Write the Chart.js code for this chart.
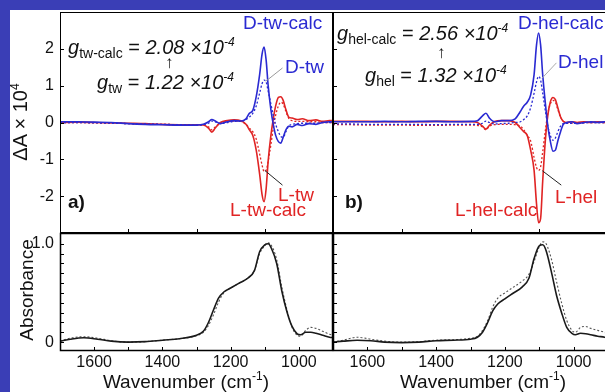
<!DOCTYPE html>
<html>
<head>
<meta charset="utf-8">
<script src="https://cdn.jsdelivr.net/npm/chart.js@4.4.1/dist/chart.umd.min.js"></script>
<style>
html, body { margin: 0; padding: 0; width: 605px; height: 392px; overflow: hidden; background: #3a3eb6; }
#sheet { position: absolute; left: 10px; top: 10px; right: 0; bottom: 0; background: #fff; }
canvas { position: absolute; }
.t { position: absolute; font-family: "Liberation Sans", Arial, sans-serif; font-size: 19px; line-height: 20px; white-space: nowrap; color: #111; }
.t sub { font-size: 14px; font-style: normal; vertical-align: -4px; line-height: 0; }
.t sup { font-size: 12px; vertical-align: 8px; line-height: 0; }
.g { font-size: 20px; }
.blue { color: #2a2ad2; }
.red { color: #e02424; }
.b { font-weight: bold; }
.arr { font-size: 17px; font-weight: 100; }
.rot { transform: translate(-50%, -50%) rotate(-90deg); }
.ctr { transform: translate(-50%, -50%); }
</style>
</head>
<body>
<div id="sheet"></div>
<canvas id="vcdTw" width="336" height="236" style="left:0;top:0"></canvas>
<canvas id="vcdHel" width="300" height="236" style="left:323px;top:0"></canvas>
<canvas id="absTw" width="336" height="169" style="left:0;top:223px"></canvas>
<canvas id="absHel" width="300" height="169" style="left:323px;top:223px"></canvas>

<div class="t g" style="left:68px;top:37px"><i>g</i><sub>tw-calc</sub> = <i>2.08 ×10<sup>-4</sup></i></div>
<div class="t arr" style="left:165px;top:53px">↑</div>
<div class="t g" style="left:97px;top:72px"><i>g</i><sub>tw</sub> = <i>1.22 ×10<sup>-4</sup></i></div>
<div class="t blue" style="left:243px;top:13px">D-tw-calc</div>
<div class="t blue" style="left:285px;top:57px">D-tw</div>
<div class="t red" style="left:278px;top:185px">L-tw</div>
<div class="t red" style="left:230px;top:200px">L-tw-calc</div>
<div class="t b" style="left:68px;top:192px">a)</div>

<div class="t g" style="left:337px;top:23px"><i>g</i><sub>hel-calc</sub> = <i>2.56 ×10<sup>-4</sup></i></div>
<div class="t arr" style="left:437px;top:43px">↑</div>
<div class="t g" style="left:365px;top:65px"><i>g</i><sub>hel</sub> = <i>1.32 ×10<sup>-4</sup></i></div>
<div class="t blue" style="left:518px;top:13px">D-hel-calc</div>
<div class="t blue" style="left:558px;top:52px">D-hel</div>
<div class="t red" style="left:555px;top:187px">L-hel</div>
<div class="t red" style="left:455px;top:200px">L-hel-calc</div>
<div class="t b" style="left:345px;top:192px">b)</div>

<div class="t rot" style="left:20px;top:122px;font-size:20px">ΔA × 10<sup>4</sup></div>
<div class="t rot" style="left:27px;top:290px">Absorbance</div>
<div class="t ctr" style="left:186px;top:382px">Wavenumber (cm<sup>-1</sup>)</div>
<div class="t ctr" style="left:483px;top:382px">Wavenumber (cm<sup>-1</sup>)</div>

<script>
// VCD spectra (ΔA x 10^4), x = wavenumber
const wnTop = [1700,1650,1600,1550,1500,1450,1400,1350,1300,1280,1265,1255,1245,1230,1210,1190,1170,1155,1145,1135,1125,1115,1108,1102,1096,1090,1082,1075,1068,1060,1053,1046,1038,1030,1020,1005,990,970,950,930,910,900];
const twCalcD = [0.02,0.02,0.01,0.0,-0.03,-0.05,-0.06,-0.07,-0.07,-0.05,0.02,0.08,0.04,-0.03,0.02,0.05,0.04,0.1,0.25,0.33,0.7,1.3,1.85,2.05,1.7,1.0,0.35,-0.05,-0.35,-0.52,-0.56,-0.4,-0.2,-0.1,-0.12,-0.05,-0.08,-0.03,-0.05,0.0,0.02,0.02];
const twCalcL = [0.0,0.01,0.0,-0.01,-0.02,-0.03,-0.05,-0.06,-0.06,-0.07,-0.15,-0.26,-0.15,0.0,0.05,0.07,0.05,-0.05,-0.2,-0.35,-0.75,-1.4,-1.95,-2.15,-1.8,-1.05,-0.35,0.1,0.45,0.68,0.7,0.6,0.35,0.15,0.12,0.08,0.1,0.05,0.07,0.03,0.05,0.05];
const twD = [0.0,0.0,-0.01,-0.02,-0.03,-0.04,-0.05,-0.06,-0.07,-0.06,-0.02,0.04,0.02,-0.03,0.0,0.03,0.03,0.08,0.15,0.25,0.45,0.8,1.05,1.15,1.1,0.85,0.5,0.2,-0.05,-0.25,-0.38,-0.4,-0.25,-0.1,-0.05,-0.03,-0.02,-0.02,-0.02,0.0,0.0,0.0];
const twL = [0.0,0.0,-0.01,-0.02,-0.03,-0.04,-0.05,-0.06,-0.07,-0.07,-0.12,-0.2,-0.12,-0.02,0.02,0.04,0.03,-0.05,-0.15,-0.25,-0.45,-0.85,-1.15,-1.33,-1.3,-1.05,-0.6,-0.15,0.2,0.45,0.55,0.5,0.3,0.12,0.05,0.03,0.03,0.02,0.02,0.0,0.0,0.0];
const helCalcD = [0.02,0.02,0.02,0.03,0.02,0.03,0.03,0.02,0.03,0.05,0.18,0.25,0.12,0.02,0.05,0.05,0.1,0.3,0.45,0.55,0.75,1.3,2.1,2.43,2.1,1.3,0.5,-0.1,-0.5,-0.78,-0.75,-0.5,-0.25,-0.05,0.0,0.02,-0.03,0.0,0.02,0.0,0.02,0.02];
const helCalcL = [0.03,0.03,0.03,0.02,0.03,0.02,0.03,0.03,0.02,0.0,-0.1,-0.18,-0.08,0.03,0.05,0.05,0.0,-0.15,-0.25,-0.35,-0.75,-1.3,-2.2,-2.72,-2.6,-1.6,-0.45,0.2,0.55,0.68,0.62,0.4,0.15,0.03,0.0,0.02,0.0,0.02,0.0,0.02,0.0,0.0];
const helD = [-0.04,-0.04,-0.05,-0.05,-0.05,-0.05,-0.06,-0.05,-0.05,-0.05,-0.02,0.04,0.0,-0.04,-0.03,-0.02,0.0,0.02,0.08,0.18,0.4,0.8,1.1,1.25,1.15,0.8,0.3,-0.1,-0.35,-0.48,-0.42,-0.25,-0.1,-0.03,-0.02,-0.02,-0.02,-0.01,0.0,0.0,0.0,0.0];
const helL = [-0.06,-0.06,-0.07,-0.07,-0.07,-0.08,-0.08,-0.07,-0.07,-0.08,-0.12,-0.2,-0.1,-0.06,-0.05,-0.05,-0.06,-0.1,-0.2,-0.35,-0.5,-0.95,-1.22,-1.3,-1.2,-0.8,-0.2,0.25,0.5,0.6,0.55,0.35,0.15,0.03,0.0,-0.02,-0.02,-0.01,0.0,0.0,0.0,0.0];

// IR absorbance (normalised)
const wnAbs = [1700,1670,1630,1590,1550,1500,1450,1400,1350,1300,1280,1265,1250,1235,1220,1200,1175,1150,1130,1115,1100,1090,1080,1065,1050,1035,1020,1005,995,980,965,950,930,910,900];
const absTwCalc = [0.01,0.03,0.045,0.03,0.01,0.0,0.005,0.02,0.035,0.07,0.11,0.2,0.33,0.45,0.51,0.55,0.6,0.65,0.73,0.92,0.99,1.0,0.95,0.8,0.52,0.31,0.16,0.085,0.075,0.1,0.1,0.09,0.07,0.05,0.045];
const absTwExp = [0.01,0.04,0.055,0.04,0.015,0.0,0.005,0.02,0.035,0.065,0.1,0.17,0.28,0.41,0.5,0.55,0.6,0.65,0.73,0.9,0.98,1.01,0.98,0.84,0.56,0.33,0.15,0.07,0.06,0.12,0.15,0.14,0.11,0.08,0.07];
const absHelCalc = [0.0,0.01,0.02,0.015,0.0,-0.005,0.0,0.015,0.02,0.03,0.05,0.1,0.2,0.32,0.39,0.44,0.5,0.56,0.65,0.85,0.98,0.99,0.93,0.72,0.48,0.3,0.15,0.09,0.075,0.09,0.085,0.075,0.06,0.05,0.04];
const absHelExp = [0.0,0.02,0.05,0.03,0.01,0.0,0.005,0.02,0.025,0.04,0.06,0.12,0.22,0.36,0.45,0.5,0.56,0.62,0.69,0.82,0.97,1.02,1.0,0.85,0.62,0.4,0.22,0.12,0.1,0.15,0.16,0.14,0.12,0.1,0.08];

// ticks
const vcdLabels = [-2, -1, 0, 1, 2];
const vcdTopTicks = [1500, 1300, 1100];
const wnLabels = [1600, 1400, 1200, 1000];
const wnTicks = [1600, 1500, 1400, 1300, 1200, 1100, 1000];
const absLabels = [0, 1];
const absTicks = [0, 0.1, 0.2, 0.3, 0.4, 0.5, 0.6, 0.7, 0.8, 0.9, 1.0];

const BLUE = "#2a2ad2", RED = "#e02424";

Chart.defaults.font.family = '"Liberation Sans", Arial, sans-serif';
Chart.defaults.color = "#111";

function pts(xs, ys) {
    return xs.map(function (x, i) { return { x: x, y: ys[i] }; });
}

function fitBox(w, h) {
    return function (s) {
        if (w !== null) s.width = w;
        if (h !== null) s.height = h;
        s.paddingTop = 0; s.paddingBottom = 0; s.paddingLeft = 0; s.paddingRight = 0;
    };
}

// frame, inward tick marks, leader lines
const frameTicks = {
    id: "frameTicks",
    afterDatasetsDraw(chart, args, o) {
        const ctx = chart.ctx, a = chart.chartArea;
        const x = chart.scales.x, y = chart.scales.y;
        ctx.save();
        (o.leaders || []).forEach(function (l) {
            ctx.strokeStyle = l.color;
            ctx.lineWidth = 1;
            ctx.beginPath();
            ctx.moveTo(x.getPixelForValue(l.x1), y.getPixelForValue(l.y1));
            ctx.lineTo(x.getPixelForValue(l.x2), y.getPixelForValue(l.y2));
            ctx.stroke();
        });
        ctx.strokeStyle = "#000";
        ctx.lineWidth = o.width;
        ctx.strokeRect(a.left + 0.5, a.top + 0.5, a.right - a.left - 1, a.bottom - a.top - 1);
        ctx.lineWidth = 1;
        ctx.beginPath();
        (o.xTicks || []).forEach(function (v) {
            const px = Math.round(x.getPixelForValue(v)) + 0.5;
            ctx.moveTo(px, a.bottom); ctx.lineTo(px, a.bottom - o.len);
        });
        (o.yTicks || []).forEach(function (v) {
            const py = Math.round(y.getPixelForValue(v)) + 0.5;
            ctx.moveTo(a.left, py); ctx.lineTo(a.left + o.len, py);
        });
        ctx.stroke();
        ctx.restore();
    }
};

function line(data, color, width, dashed) {
    return {
        data: data, borderColor: color, borderWidth: width,
        borderDash: dashed ? [2, 2] : [], pointRadius: 0,
        cubicInterpolationMode: "monotone", fill: false
    };
}

function vcdChart(id, sets, labelled, padRight, leaders) {
    return new Chart(document.getElementById(id), {
        type: "line",
        data: { datasets: sets },
        plugins: [frameTicks],
        options: {
            responsive: false, animation: false, devicePixelRatio: 1,
            layout: { padding: { top: 12, right: padRight, left: 0, bottom: 0 } },
            scales: {
                x: { type: "linear", reverse: true, min: 900, max: 1700,
                     ticks: { display: false }, grid: { display: false, drawTicks: false },
                     border: { display: false }, afterFit: fitBox(null, 3) },
                y: { min: -3, max: 3,
                     afterBuildTicks: function (s) { s.ticks = vcdLabels.map(function (v) { return { value: v }; }); },
                     ticks: { display: labelled, font: { size: 16 }, padding: 6, color: "#111",
                              callback: function (v) { return String(v); } },
                     grid: { display: false, drawTicks: false }, border: { display: false },
                     afterFit: fitBox(labelled ? 60 : 10, null) }
            },
            plugins: {
                legend: { display: false }, tooltip: { enabled: false },
                frameTicks: { width: 1, len: 4, xTicks: vcdTopTicks, yTicks: vcdLabels, leaders: leaders }
            }
        }
    });
}

function absChart(id, sets, labelled, padRight) {
    return new Chart(document.getElementById(id), {
        type: "line",
        data: { datasets: sets },
        plugins: [frameTicks],
        options: {
            responsive: false, animation: false, devicePixelRatio: 1,
            layout: { padding: { top: 10, right: padRight, left: 0, bottom: 0 } },
            scales: {
                x: { type: "linear", reverse: true, min: 900, max: 1700,
                     afterBuildTicks: function (s) { s.ticks = wnLabels.map(function (v) { return { value: v }; }); },
                     ticks: { font: { size: 16 }, padding: 2, color: "#111", maxRotation: 0,
                              callback: function (v) { return String(v); } },
                     grid: { display: false, drawTicks: false }, border: { display: false },
                     afterFit: fitBox(null, 41) },
                y: { min: -0.09, max: 1.11,
                     afterBuildTicks: function (s) { s.ticks = absLabels.map(function (v) { return { value: v }; }); },
                     ticks: { display: labelled, font: { size: 16 }, padding: 6, color: "#111",
                              callback: function (v) { return v === 1 ? "1.0" : "0"; } },
                     grid: { display: false, drawTicks: false }, border: { display: false },
                     afterFit: fitBox(labelled ? 60 : 10, null) }
            },
            plugins: {
                legend: { display: false }, tooltip: { enabled: false },
                frameTicks: { width: 1.5, len: 4, xTicks: wnTicks, yTicks: absTicks }
            }
        }
    });
}

vcdChart("vcdTw", [
    line(pts(wnTop, twCalcD), BLUE, 1.6, false),
    line(pts(wnTop, twD), BLUE, 1.3, true),
    line(pts(wnTop, twCalcL), RED, 1.6, false),
    line(pts(wnTop, twL), RED, 1.3, true)
], true, 3, [
    { x1: 1048, y1: 1.48, x2: 1097, y2: 1.12, color: "#9a9a9a" },
    { x1: 1048, y1: -1.70, x2: 1100, y2: -1.30, color: "#222" }
]);

vcdChart("vcdHel", [
    line(pts(wnTop, helCalcD), BLUE, 1.6, false),
    line(pts(wnTop, helD), BLUE, 1.3, true),
    line(pts(wnTop, helCalcL), RED, 1.6, false),
    line(pts(wnTop, helL), RED, 1.3, true)
], false, 15, [
    { x1: 1050, y1: 1.62, x2: 1092, y2: 1.20, color: "#aaaaaa" },
    { x1: 1036, y1: -1.70, x2: 1091, y2: -1.31, color: "#222" }
]);

absChart("absTw", [
    line(pts(wnAbs, absTwCalc), "#1a1a1a", 1.6, false),
    line(pts(wnAbs, absTwExp), "#555", 1.1, true)
], true, 3);

absChart("absHel", [
    line(pts(wnAbs, absHelCalc), "#1a1a1a", 1.6, false),
    line(pts(wnAbs, absHelExp), "#555", 1.1, true)
], false, 15);
</script>
</body>
</html>
